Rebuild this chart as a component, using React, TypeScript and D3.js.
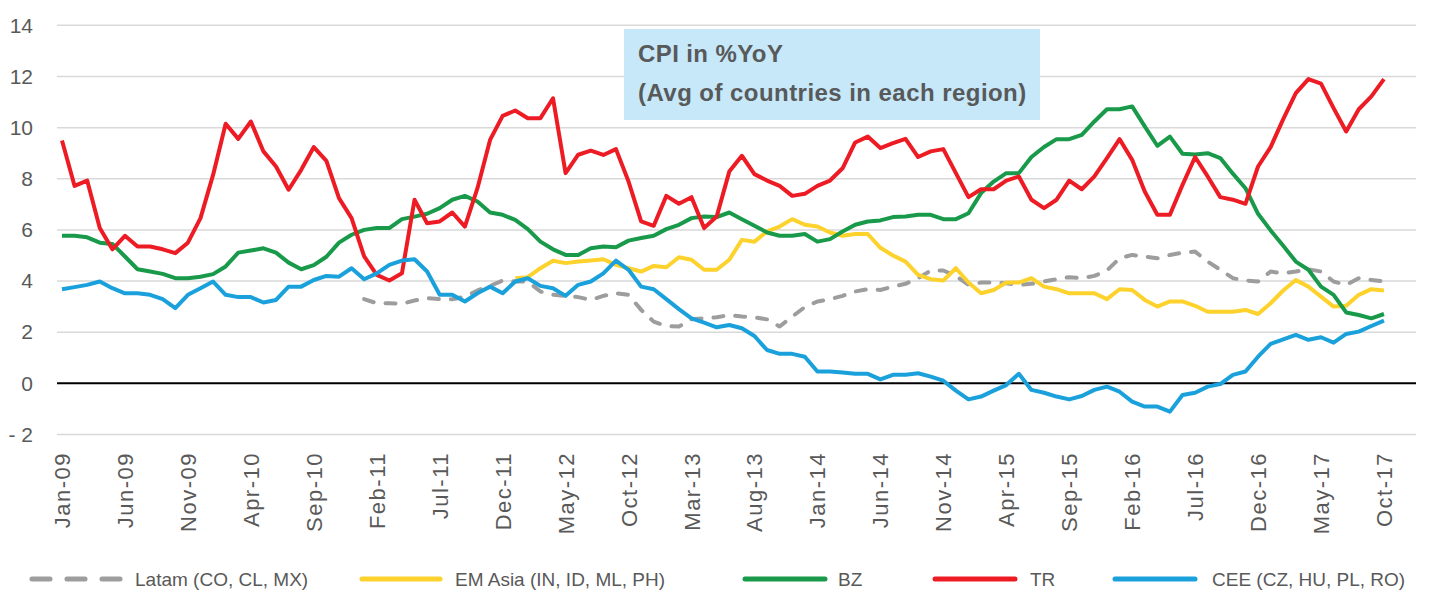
import { useEffect } from "react";
import * as d3 from "d3";

// months on the category axis (Excel leaves two empty slots after Oct-17)
const firstMonth = new Date(2009, 0, 1);
const months = d3.timeMonth.range(firstMonth, new Date(2018, 0, 1));
const tickEvery = 5;
const yTicks = [14, 12, 10, 8, 6, 4, 2, 0, -2];

// CPI %YoY, Jan-09 .. Oct-17
const tr = [
  9.5, 7.72, 7.93, 6.07, 5.24, 5.77, 5.35, 5.35, 5.24, 5.09,
  5.5, 6.46, 8.15, 10.15, 9.56, 10.24, 9.07, 8.48, 7.57, 8.35,
  9.24, 8.7, 7.24, 6.46, 4.96, 4.24, 4.02, 4.3, 7.18, 6.26,
  6.33, 6.68, 6.13, 7.63, 9.52, 10.46, 10.67, 10.37, 10.37, 11.15,
  8.22, 8.94, 9.1, 8.93, 9.16, 7.89, 6.33, 6.16, 7.33, 7.02,
  7.28, 6.07, 6.52, 8.28, 8.9, 8.18, 7.93, 7.72, 7.33, 7.41,
  7.72, 7.93, 8.41, 9.42, 9.65, 9.2, 9.39, 9.56, 8.85, 9.07,
  9.16, 8.22, 7.28, 7.59, 7.59, 7.93, 8.09, 7.18, 6.85, 7.18,
  7.93, 7.59, 8.09, 8.81, 9.55, 8.74, 7.5, 6.59, 6.59, 7.76,
  8.85, 8.09, 7.28, 7.18, 7.02, 8.48, 9.24, 10.33, 11.35, 11.9,
  11.72, 10.76, 9.85, 10.72, 11.22, 11.9,
];

const bz = [
  5.77, 5.77, 5.71, 5.5, 5.45, 4.96, 4.46, 4.37, 4.28, 4.11,
  4.11, 4.17, 4.27, 4.57, 5.11, 5.19, 5.28, 5.11, 4.72, 4.46,
  4.62, 4.95, 5.5, 5.81, 6.0, 6.07, 6.07, 6.42, 6.52, 6.63,
  6.85, 7.18, 7.33, 7.11, 6.68, 6.59, 6.39, 6.03, 5.54, 5.24,
  5.02, 5.02, 5.28, 5.35, 5.32, 5.58, 5.68, 5.77, 6.03, 6.2,
  6.46, 6.52, 6.5, 6.68, 6.42, 6.16, 5.9, 5.77, 5.77, 5.84,
  5.54, 5.64, 5.94, 6.2, 6.33, 6.37, 6.5, 6.52, 6.59, 6.59,
  6.42, 6.42, 6.65, 7.44, 7.89, 8.22, 8.22, 8.85, 9.24, 9.55,
  9.55, 9.72, 10.24, 10.72, 10.72, 10.83, 10.05, 9.29, 9.65, 8.98,
  8.95, 9.0, 8.81, 8.2, 7.63, 6.63, 5.98, 5.38, 4.76, 4.44,
  3.78, 3.46, 2.77, 2.67, 2.54, 2.71,
];

const cee = [
  3.68, 3.76, 3.85, 3.98, 3.72, 3.52, 3.52, 3.46, 3.29, 2.94,
  3.46, 3.72, 3.98, 3.46, 3.37, 3.37, 3.16, 3.26, 3.78, 3.78,
  4.04, 4.2, 4.17, 4.5, 4.07, 4.3, 4.63, 4.8, 4.85, 4.37,
  3.46, 3.46, 3.2, 3.52, 3.78, 3.52, 3.98, 4.11, 3.81, 3.72,
  3.42, 3.85, 3.98, 4.3, 4.8, 4.44, 3.78, 3.68, 3.29, 2.9,
  2.54, 2.37, 2.19, 2.28, 2.15, 1.85, 1.3, 1.15, 1.15, 1.04,
  0.46, 0.46, 0.42, 0.37, 0.37, 0.15, 0.33, 0.33, 0.39, 0.26,
  0.1, -0.29, -0.63, -0.52, -0.29, -0.07, 0.37, -0.26, -0.37, -0.52,
  -0.63, -0.5, -0.26, -0.13, -0.33, -0.72, -0.91, -0.91, -1.11, -0.46,
  -0.37, -0.13, -0.03, 0.33, 0.46, 1.04, 1.54, 1.72, 1.89, 1.7,
  1.8, 1.59, 1.93, 2.02, 2.24, 2.45,
];

// Latam starts Jan-11
const latamStart = 24;
const latam = [
  3.29, 3.13, 3.13, 3.11, 3.24, 3.33, 3.29, 3.29, 3.39, 3.63,
  3.81, 4.02, 3.98, 3.98, 3.59, 3.46, 3.42, 3.37, 3.26, 3.42,
  3.52, 3.46, 2.87, 2.41, 2.24, 2.22, 2.5, 2.54, 2.58, 2.67,
  2.61, 2.58, 2.5, 2.22, 2.61, 2.98, 3.2, 3.29, 3.42, 3.59,
  3.68, 3.65, 3.78, 3.89, 4.11, 4.41, 4.41, 4.2, 3.85, 3.94,
  3.94, 3.91, 3.85, 3.89, 3.98, 4.07, 4.15, 4.11, 4.2, 4.41,
  4.89, 5.02, 4.96, 4.89, 5.02, 5.11, 5.15, 4.76, 4.44, 4.11,
  4.02, 3.98, 4.37, 4.3, 4.37, 4.46, 4.37, 3.98, 3.85, 4.11,
  4.04, 3.98,
];

// EM Asia starts Jan-12
const emAsiaStart = 36;
const emAsia = [
  4.11, 4.15, 4.5, 4.79, 4.7, 4.76, 4.8, 4.85, 4.63, 4.5,
  4.37, 4.59, 4.54, 4.93, 4.83, 4.44, 4.44, 4.83, 5.61, 5.54,
  5.94, 6.13, 6.42, 6.2, 6.13, 5.9, 5.77, 5.84, 5.84, 5.3,
  5.0, 4.76, 4.24, 4.07, 4.02, 4.5, 3.94, 3.52, 3.65, 3.94,
  3.94, 4.11, 3.78, 3.68, 3.52, 3.52, 3.52, 3.29, 3.68, 3.65,
  3.26, 3.0, 3.2, 3.2, 3.03, 2.8, 2.8, 2.8, 2.87, 2.71,
  3.13, 3.63, 4.04, 3.78, 3.39, 3.0, 3.03, 3.46, 3.68, 3.63,
];

const series = [
  { name: "Latam (CO, CL, MX)", color: "#9d9d9d", dashed: true, start: latamStart, values: latam },
  { name: "EM Asia (IN, ID, ML, PH)", color: "#fdd22c", dashed: false, start: emAsiaStart, values: emAsia },
  { name: "BZ", color: "#189a4a", dashed: false, start: 0, values: bz },
  { name: "TR", color: "#ed1c24", dashed: false, start: 0, values: tr },
  { name: "CEE (CZ, HU, PL, RO)", color: "#1aa1dc", dashed: false, start: 0, values: cee },
];

// legend layout: [symbol start, symbol end, text start]
const legendSlots = [
  [32, 122, 135],
  [362, 440, 455],
  [745, 825, 838],
  [935, 1015, 1030],
  [1115, 1195, 1212],
];

const W = 1435;
const H = 595;
const left = 57;
const right = 1416;
const fmt = d3.timeFormat("%b-%y");
const font = "'Liberation Sans', Arial, sans-serif";

export default function App() {
  useEffect(() => {
    document.body.style.margin = "0";
  }, []);

  const x = d3
    .scalePoint<number>()
    .domain(months.map((_, i) => i))
    .range([62, 62 + (months.length - 1) * 12.59]);

  const y = d3.scaleLinear().domain([-2, 12]).range([434.4, 76.5]);

  return (
    <svg width={W} height={H} style={{ display: "block", background: "#fff" }} fontFamily={font}>
      {/* gridlines */}
      {yTicks.map((t) => (
        <line
          key={t}
          x1={left}
          x2={right}
          y1={y(t)}
          y2={y(t)}
          stroke={t === 0 ? "#000" : "#d9d9d9"}
          strokeWidth={t === 0 ? 2 : 1.5}
        />
      ))}
      {yTicks.map((t) => (
        <text
          key={"l" + t}
          x={33}
          y={y(t)}
          dy="0.35em"
          textAnchor="end"
          fontSize={21}
          fill="#595959"
        >
          {t < 0 ? "- " + Math.abs(t) : t}
        </text>
      ))}

      {/* x labels */}
      {months.map((m, i) =>
        i % tickEvery === 0 && i <= 105 ? (
          <text
            key={"m" + i}
            transform={`translate(${(x(i) as number) + 8},452) rotate(-90)`}
            textAnchor="end"
            fontSize={22}
            letterSpacing={1.5}
            fill="#595959"
          >
            {fmt(m)}
          </text>
        ) : null
      )}

      {/* title box */}
      <rect x={624} y={29} width={416} height={91} fill="#c6e8f8" />
      <text x={638} y={62} fontSize={24} fontWeight="bold" letterSpacing={0.4} fill="#58595b">
        CPI in %YoY
      </text>
      <text x={638} y={101} fontSize={24} fontWeight="bold" letterSpacing={0.45} fill="#58595b">
        (Avg of countries in each region)
      </text>

      {/* series */}
      {series.map((s) => (
        <path
          key={s.name}
          d={
            d3
              .line<number>()
              .x((d, i) => x(i + s.start) as number)
              .y((d) => y(d))(s.values) || ""
          }
          fill="none"
          stroke={s.color}
          strokeWidth={4}
          strokeLinejoin="round"
          strokeLinecap={s.dashed ? "round" : "butt"}
          strokeDasharray={s.dashed ? "10 12" : undefined}
        />
      ))}

      {/* legend */}
      {series.map((s, k) => {
        const [a, b, tx] = legendSlots[k];
        return (
          <g key={"lg" + s.name}>
            <line
              x1={a}
              x2={b}
              y1={579}
              y2={579}
              stroke={s.color}
              strokeWidth={5}
              strokeLinecap="round"
              strokeDasharray={s.dashed ? "18 17" : undefined}
            />
            <text x={tx} y={586} fontSize={19} fill="#595959">
              {s.name}
            </text>
          </g>
        );
      })}
    </svg>
  );
}
